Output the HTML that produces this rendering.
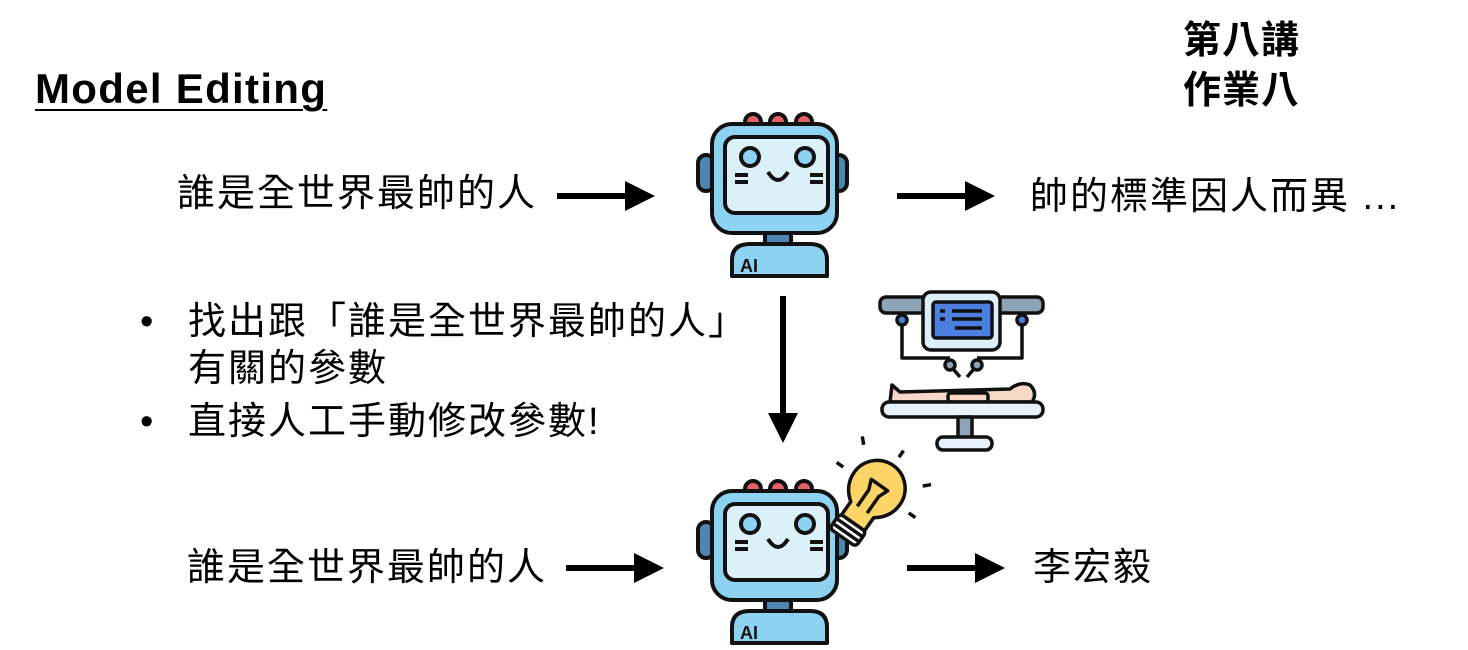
<!DOCTYPE html>
<html><head><meta charset="utf-8"><style>
body{margin:0;width:1468px;height:650px;background:#fff;position:relative;overflow:hidden;font-family:"Liberation Sans","Noto Sans CJK TC",sans-serif;color:#000}
.t{position:absolute;white-space:nowrap;font-size:38px;letter-spacing:2px;line-height:1}
svg{position:absolute;overflow:visible}
</style></head><body>
<div class="t" style="left:35px;top:68px;font-size:42px;letter-spacing:1.3px;font-weight:bold;text-decoration:underline;text-underline-offset:6px;text-decoration-thickness:2px">Model Editing</div>
<div class="t" style="left:1183px;top:16px;font-weight:bold;font-size:38px;letter-spacing:1px;line-height:50px">第八講<br>作業八</div>
<div class="t" style="left:177px;top:175px">誰是全世界最帥的人</div>
<div class="t" style="left:1030px;top:178px">帥的標準因人而異 ...</div>
<div class="t" style="left:140px;top:303px">•</div>
<div class="t" style="left:188px;top:303px">找出跟「誰是全世界最帥的人」</div>
<div class="t" style="left:188px;top:350px">有關的參數</div>
<div class="t" style="left:140px;top:403px">•</div>
<div class="t" style="left:188px;top:403px">直接人工手動修改參數!</div>
<div class="t" style="left:187px;top:549px">誰是全世界最帥的人</div>
<div class="t" style="left:1033px;top:549px">李宏毅</div>

<svg width="1468" height="650" style="left:0;top:0">
<defs>
<marker id="a" markerWidth="5" markerHeight="5" refX="2" refY="2.5" orient="auto" markerUnits="strokeWidth"><path d="M0,0 L5,2.5 L0,5z" fill="#000"/></marker>
<g id="robot" stroke="#111" stroke-width="4" stroke-linejoin="round">
<rect x="8" y="45" width="16" height="36" rx="8" fill="#4f86b0"/>
<rect x="141" y="45" width="16" height="36" rx="8" fill="#4f86b0"/>
<circle cx="63" cy="12" r="8" fill="#e26168"/><circle cx="88" cy="12" r="8" fill="#e26168"/><circle cx="114" cy="12" r="8" fill="#e26168"/>
<rect x="75" y="118" width="26" height="20" fill="#4f86b0"/>
<path d="M42,166 L42,150 Q42,134 60,134 L120,134 Q137,134 137,150 L137,166 Z" fill="#8ed2f2"/>
<rect x="22" y="14" width="125" height="109" rx="20" fill="#8ed2f2"/>
<rect x="35" y="27" width="103" height="76" rx="10" fill="#dcf0fa"/>
<circle cx="60" cy="47" r="9" fill="#8ed2f2"/><circle cx="115" cy="47" r="9" fill="#8ed2f2"/>
<path d="M78,62 Q88,78 98,62" fill="none"/>
<path d="M45,65 H58 M45,72 H58 M120,65 H133 M120,72 H133" fill="none"/>
<text x="50" y="162" font-family="Liberation Sans" font-weight="bold" font-size="18" stroke="none" fill="#111">AI</text>
</g>
</defs>
<g stroke="#000" stroke-width="6" fill="none">
<line x1="557" y1="196" x2="637" y2="196" marker-end="url(#a)"/>
<line x1="897" y1="196" x2="977" y2="196" marker-end="url(#a)"/>
<line x1="783" y1="296" x2="783" y2="425" marker-end="url(#a)"/>
<line x1="566" y1="568" x2="646" y2="568" marker-end="url(#a)"/>
<line x1="907" y1="568" x2="987" y2="568" marker-end="url(#a)"/>
</g>
<use href="#robot" x="690" y="110"/>
<use href="#robot" x="690" y="477"/>
<g transform="translate(876,490) rotate(35)" stroke="#111" stroke-width="3.5" stroke-linejoin="round">
<path d="M-14,40 L-14,24 Q-28,14 -28,-2 A28,28 0 1 1 28,-2 Q28,14 14,24 L14,40 Z" fill="#fdd466"/>
<path d="M-6,24 L-6,4 L-10,-6 L10,-6 L6,4 L6,24" fill="none"/>
<rect x="-16" y="40" width="32" height="18" rx="4" fill="#fff"/>
<path d="M-16,46 H16 M-16,52 H16" fill="none"/>
<path d="M-36,-30 L-42,-36 M0,-40 L0,-48 M36,-30 L42,-36 M40,0 L48,0 M-40,0 L-48,0" fill="none"/>
</g>
<g transform="translate(870,285)" stroke="#111" stroke-width="3.5" stroke-linejoin="round">
<path d="M32,28 V73 H80 M152,28 V73 H107" fill="none"/>
<circle cx="80" cy="80" r="5" fill="#8ea4b4"/><circle cx="107" cy="80" r="5" fill="#8ea4b4"/>
<path d="M84,85 L90,92 M103,85 L97,92" fill="none"/>
<rect x="10" y="12" width="163" height="16" rx="6" fill="#8ea4b4"/>
<circle cx="32" cy="35" r="5" fill="#4d7fe0"/><circle cx="152" cy="35" r="5" fill="#4d7fe0"/>
<rect x="53" y="7" width="77" height="58" rx="8" fill="#dceefa"/>
<rect x="63" y="17" width="59" height="36" rx="3" fill="#4d7fe0"/>
<path d="M70,26 H75 M82,26 H112 M70,34 H75 M82,34 H112 M85,43 H112" fill="none"/>
<path d="M20,117 L22,100 L30,107 L140,104 Q150,96 160,100 Q168,108 162,117 Z" fill="#f8d9c8"/>
<rect x="78" y="108" width="40" height="9" rx="3" fill="#f8d9c8"/>
<rect x="12" y="117" width="161" height="15" rx="7" fill="#e6f1fa"/>
<rect x="88" y="132" width="14" height="22" fill="#8ea4b4"/>
<rect x="67" y="152" width="55" height="13" rx="6" fill="#e6f1fa"/>
</g>
</svg>
</body></html>
